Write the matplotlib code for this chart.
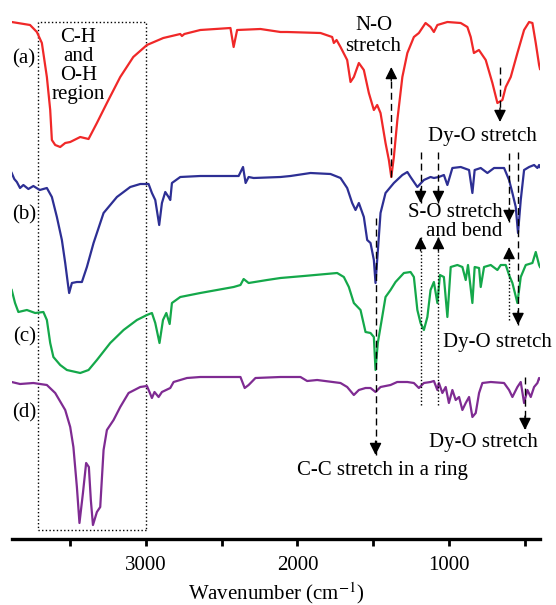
import numpy as np
from matplotlib import pyplot as plt
from matplotlib.patches import Rectangle

# FTIR spectra, transmittance in arbitrary offset units
wn_a = [3885, 3764, 3719, 3686, 3653, 3631, 3620, 3598, 3565, 3532, 3499, 3433, 3378, 3323,
        3257, 3169, 3083, 2993, 2885, 2773, 2762, 2746, 2641, 2442, 2421, 2398, 2244, 2112,
        2068, 1848, 1771, 1760, 1742, 1716, 1672, 1650, 1628, 1595, 1562, 1529, 1496, 1474,
        1452, 1419, 1397, 1381, 1364, 1341, 1308, 1275, 1232, 1199, 1155, 1122, 1100, 1077,
        1011, 923, 879, 857, 836, 803, 758, 714, 681, 648, 626, 593, 549, 505, 472, 450,
        428, 406, 400]
t_a = [517, 514, 507, 496, 462, 429, 399, 394, 392, 396, 397, 402, 400, 416,
       436, 462, 482, 494, 501, 505, 503, 505, 509, 511, 492, 509, 510, 507,
       507, 506, 502, 496, 499, 492, 479, 457, 462, 476, 469, 446, 429, 434,
       426, 396, 379, 362, 382, 419, 462, 486, 502, 506, 516, 512, 507, 514,
       517, 516, 512, 502, 486, 489, 479, 456, 436, 439, 452, 462, 486, 509, 517, 516,
       496, 474, 470]

wn_b = [3885, 3868, 3851, 3830, 3808, 3775, 3742, 3700, 3653, 3620, 3587, 3554, 3532, 3515,
        3506, 3488, 3455, 3422, 3389, 3345, 3279, 3191, 3103, 3037, 2982, 2960, 2938, 2912,
        2894, 2872, 2850, 2839, 2828, 2773, 2641, 2388, 2359, 2342, 2322, 2289, 2112, 2046,
        1914, 1782, 1716, 1672, 1639, 1617, 1595, 1562, 1540, 1518, 1496, 1485, 1474, 1452,
        1419, 1364, 1308, 1275, 1254, 1209, 1166, 1122, 1100, 1067, 1034, 1011, 978, 923,
        868, 846, 831, 791, 747, 703, 637, 604, 582, 560, 545, 527, 505, 472, 439, 417,
        406, 400]
t_b = [366, 360, 357, 351, 354, 350, 353, 349, 351, 342, 322, 299, 276, 256,
       246, 256, 257, 257, 272, 296, 326, 342, 352, 355, 355, 346, 339, 314,
       336, 347, 342, 339, 356, 362, 363, 363, 372, 356, 362, 361, 362, 363,
       366, 365, 361, 351, 336, 329, 336, 322, 299, 296, 279, 256, 279, 326,
       346, 356, 364, 367, 362, 352, 359, 362, 361, 362, 364, 354, 371, 372,
       369, 346, 369, 371, 366, 371, 371, 359, 346, 332, 306, 339, 369, 372, 374, 371,
       374, 372]

wn_c = [3885, 3863, 3841, 3785, 3730, 3676, 3653, 3631, 3610, 3565, 3521, 3433, 3378, 3323,
        3235, 3147, 3059, 2993, 2960, 2938, 2910, 2887, 2865, 2843, 2828, 2773, 2641, 2421,
        2376, 2355, 2322, 2200, 2112, 1958, 1738, 1694, 1661, 1628, 1584, 1551, 1518, 1496,
        1485, 1470, 1441, 1419, 1386, 1353, 1298, 1254, 1232, 1209, 1188, 1166, 1143, 1122,
        1100, 1077, 1060, 1034, 1011, 989, 945, 912, 890, 875, 846, 831, 802, 791, 769, 725,
        681, 659, 626, 604, 582, 549, 527, 494, 450, 428, 406, 400]
t_c = [249, 236, 227, 229, 226, 227, 219, 196, 182, 174, 169, 166, 169, 179,
       196, 209, 219, 224, 226, 216, 196, 219, 226, 215, 236, 242, 246, 252,
       254, 260, 256, 259, 261, 263, 266, 262, 252, 236, 229, 207, 206, 202,
       169, 196, 222, 242, 249, 257, 266, 267, 262, 229, 216, 209, 222, 249,
       257, 236, 264, 262, 222, 272, 274, 272, 259, 274, 236, 272, 271, 252, 272, 274,
       269, 274, 274, 264, 256, 236, 262, 274, 276, 287, 274, 272]

wn_d = [3885, 3830, 3742, 3653, 3598, 3532, 3499, 3478, 3455, 3438, 3415, 3394, 3376, 3363,
        3349, 3323, 3301, 3279, 3257, 3213, 3169, 3114, 3037, 2993, 2976, 2960, 2943, 2916,
        2894, 2839, 2817, 2729, 2641, 2376, 2348, 2322, 2277, 2112, 1980, 1936, 1870, 1716,
        1672, 1628, 1595, 1551, 1518, 1485, 1452, 1386, 1342, 1275, 1232, 1199, 1166, 1122,
        1100, 1077, 1067, 1044, 1022, 1001, 978, 956, 934, 912, 890, 868, 846, 824, 802,
        780, 725, 637, 604, 582, 549, 527, 505, 483, 461, 439, 417, 406, 400]
t_d = [157, 155, 156, 154, 146, 129, 112, 92, 52, 16, 46, 76, 72, 39,
       14, 27, 32, 89, 109, 119, 132, 146, 152, 153, 147, 141, 147, 142,
       147, 151, 157, 161, 162, 162, 151, 154, 161, 162, 162, 158, 159, 156,
       152, 144, 149, 151, 151, 147, 152, 154, 157, 157, 156, 151, 156, 157,
       158, 149, 156, 146, 152, 136, 149, 139, 142, 129, 136, 142, 122, 126, 146,
       156, 157, 156, 149, 142, 152, 157, 136, 149, 142, 152, 156, 161, 160]

spectra = [(wn_a, t_a, '#f02828'), (wn_b, t_b, '#2d2f94'),
           (wn_c, t_c, '#14a84a'), (wn_d, t_d, '#7f2b92')]
sample_labels = ['(a)', '(b)', '(c)', '(d)']
label_y = [480, 324, 202, 126]

plt.rcParams['mathtext.fontset'] = 'stix'
serif = 'Liberation Serif'
fs = 15
ls_block = 1.0


def arrow(ax, x, y0, y1, ls):
    # line from y0 to the tip at y1, head at the tip
    ax.plot([x, x], [y0, y1], color='k', lw=1, ls=ls, dashes=(5, 3) if ls == '--' else (1, 1.5))
    sign = 1 if y1 < y0 else -1
    ax.annotate('', xy=(x, y1), xytext=(0, 10 * sign), textcoords='offset points',
                arrowprops=dict(arrowstyle='-|>,head_length=0.6,head_width=0.3',
                                color='k', lw=1, shrinkA=0, shrinkB=0, mutation_scale=12))


fig = plt.figure(figsize=(5.56, 6.05), dpi=100)
ax = fig.add_axes([11.7 / 556, 66 / 605, 528.3 / 556, 529 / 605])

for wn, t, c in spectra:
    ax.plot(wn, t, color=c, lw=1.6)

ax.set_xlim(3885, 400)
ax.set_ylim(0, 529)

# O-H / C-H region box
ax.add_patch(Rectangle((3000, 9), 709, 508, fill=False, ls=':', lw=1, ec='k'))
ax.text(3444, 473, 'C-H\nand\nO-H\nregion', ha='center', va='center',
        family=serif, fontsize=fs, linespacing=ls_block)

for lab, y in zip(sample_labels, label_y):
    ax.text(3803, y, lab, ha='center', va='center', family=serif, fontsize=fs)

# N-O
arrow(ax, 1381, 362, 472, '--')
ax.text(1498, 503, 'N-O\nstretch', ha='center', va='center', family=serif, fontsize=fs,
        linespacing=1.1)
# Dy-O (a)
arrow(ax, 664, 472, 417, '--')
ax.text(780, 402, 'Dy-O stretch', ha='center', va='center', family=serif, fontsize=fs)
# S-O (b) down, (c) up
for x in [1188, 1070]:
    arrow(ax, x, 387, 336, '--')
    arrow(ax, x, 134, 302, ':')
arrow(ax, 604, 386, 317, '--')
arrow(ax, 604, 219, 292, ':')
ax.text(646, 317, 'S-O stretch\nand bend', ha='right', va='center', family=serif,
        fontsize=fs, multialignment='right', linespacing=ls_block)
# Dy-O (b)/(c)
arrow(ax, 545, 387, 214, '--')
ax.text(681, 196, 'Dy-O stretch', ha='center', va='center', family=serif, fontsize=fs,
        clip_on=False)
# C-C ring
arrow(ax, 1485, 321, 84, '--')
ax.text(1441, 69, 'C-C stretch in a ring', ha='center', va='center', family=serif, fontsize=fs)
# Dy-O (d)
arrow(ax, 499, 162, 109, '--')
ax.text(770, 97, 'Dy-O stretch', ha='center', va='center', family=serif, fontsize=fs)

for s in ['top', 'left', 'right']:
    ax.spines[s].set_visible(False)
ax.spines['bottom'].set_linewidth(2.4)
ax.set_yticks([])
ax.set_xticks([3000, 2000, 1000])
ax.set_xticks([3500, 2500, 1500, 500], minor=True)
ax.tick_params(axis='x', which='both', direction='out', length=5, width=2, pad=7)
for lbl in ax.get_xticklabels():
    lbl.set_family(serif)
    lbl.set_fontsize(fs)
ax.set_xlabel('Wavenumber (cm$^{-1}$)', family=serif, fontsize=fs, labelpad=4)

fig.savefig('out.png', dpi=100)
